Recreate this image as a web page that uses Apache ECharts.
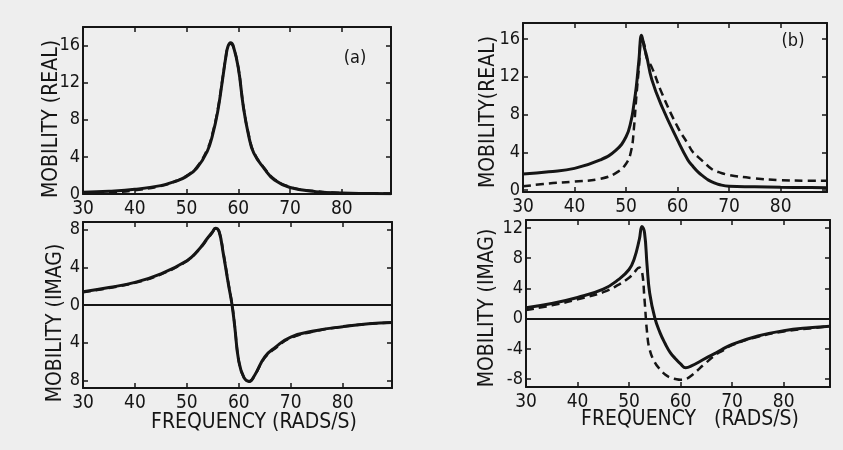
<!DOCTYPE html>
<html>
<head>
<meta charset="utf-8">
<script src="https://cdn.jsdelivr.net/npm/echarts@6/dist/echarts.min.js"></script>
<style>
  html, body { margin: 0; padding: 0; background: #eeeeee; }
  #chart { width: 843px; height: 450px; }
</style>
</head>
<body>
<div id="chart"></div>
<script>
// (a) real part
const aRealFreq = [30, 35, 40, 45, 48, 50, 52, 54, 55, 56, 57, 57.6, 58, 58.5, 59, 60, 61, 62, 63, 65, 67, 70, 75, 80, 85, 89.5]
const aRealSolid = [0.2, 0.3, 0.5, 0.9, 1.4, 1.9, 2.8, 4.6, 6.3, 8.8, 12.5, 14.8, 15.9, 16.3, 16.0, 13.6, 9.3, 6.3, 4.4, 2.75, 1.5, 0.7, 0.25, 0.1, 0.05, 0.03]
const aRealDash = [0.05, 0.15, 0.4, 0.85, 1.4, 1.95, 2.9, 4.8, 6.5, 9.0, 12.6, 14.8, 15.9, 16.2, 15.9, 13.6, 9.4, 6.4, 4.5, 2.8, 1.6, 0.75, 0.3, 0.1, 0.05, 0.05]

// (a) imaginary part
const aImagFreq = [30, 35, 40, 45, 50, 52, 54, 55, 55.5, 56.2, 57, 58, 58.7, 59.2, 60, 61, 62, 63, 65, 67, 70, 75, 80, 85, 89.5]
const aImagSolid = [1.4, 1.85, 2.4, 3.3, 4.7, 5.7, 7.1, 7.8, 8.15, 7.8, 5.5, 2.2, 0, -2.2, -6.0, -7.7, -8.1, -7.5, -5.5, -4.5, -3.4, -2.7, -2.3, -2.0, -1.85]
const aImagDash = [1.35, 1.8, 2.35, 3.25, 4.65, 5.65, 7.0, 7.75, 8.1, 7.8, 5.6, 2.3, 0.1, -2.1, -5.9, -7.7, -8.1, -7.5, -5.6, -4.6, -3.5, -2.75, -2.3, -2.0, -1.85]

// (b) real part
const bRealFreq = [30, 35, 40, 45, 48, 50, 51, 51.5, 52, 52.5, 53, 53.5, 54, 55, 57, 60, 62, 63, 64, 65, 66, 67, 68, 70, 75, 80, 85, 89]
const bRealSolid = [1.7, 1.95, 2.3, 3.2, 4.2, 5.65, 7.4, 9.0, 11.0, 13.8, 16.4, 15.2, 14.2, 11.7, 8.8, 5.3, 3.2, 2.5, 1.9, 1.45, 1.06, 0.8, 0.6, 0.4, 0.35, 0.3, 0.27, 0.25]
const bRealDash = [0.4, 0.7, 0.9, 1.2, 1.8, 2.8, 4.2, 6.4, 9.9, 13.0, 15.9, 15.5, 14.0, 13.0, 10.2, 6.7, 4.9, 4.0, 3.5, 3.0, 2.5, 2.1, 1.9, 1.6, 1.25, 1.06, 1.0, 1.0]

// (b) imaginary part
const bImagFreq = [30, 35, 40, 45, 48, 50, 51, 52, 52.5, 53, 53.5, 54, 55, 56, 57, 58, 59, 60, 61, 62, 65, 67, 68, 70, 75, 80, 85, 89]
const bImagSolid = [1.45, 2.0, 2.8, 3.9, 5.2, 6.5, 7.9, 10.5, 12.2, 11.4, 7.0, 3.4, 0.1, -1.85, -3.3, -4.5, -5.3, -6.0, -6.5, -6.3, -5.2, -4.5, -4.1, -3.4, -2.3, -1.6, -1.2, -1.0]
const bImagDash = [1.15, 1.75, 2.55, 3.5, 4.5, 5.4, 6.1, 6.75, 6.3, 2.55, -1.85, -4.1, -5.8, -6.7, -7.4, -7.8, -8.0, -8.1, -8.0, -7.6, -5.8, -4.7, -4.3, -3.5, -2.4, -1.7, -1.3, -1.0]

const xTicks = [30, 40, 50, 60, 70, 80]
const realTicks = [0, 4, 8, 12, 16]
const aImagTicks = [-8, -4, 0, 4, 8]
const bImagTicks = [-8, -4, 0, 4, 8, 12]

const INK = '#151515'
const FONT = "'DejaVu Sans Condensed', 'Liberation Sans', sans-serif"

const zip = (xs, ys) => xs.map((x, i) => [x, ys[i]])

const axisLine = { onZero: false, lineStyle: { color: INK, width: 2 } }
const tickStyle = { color: INK, width: 1.5 }

const makeX = (gridIndex, max, position, labels) => ({
  type: 'value',
  gridIndex,
  min: 30,
  max,
  position,
  axisLine,
  axisTick: { inside: true, length: 5, customValues: xTicks, lineStyle: tickStyle },
  axisLabel: {
    show: labels,
    customValues: xTicks,
    color: INK,
    fontSize: 19,
    fontFamily: FONT,
    margin: 6
  },
  splitLine: { show: false }
})

const makeY = (gridIndex, min, max, ticks, position, labels, fmt) => ({
  type: 'value',
  gridIndex,
  min,
  max,
  position,
  axisLine,
  axisTick: { inside: true, length: 5, customValues: ticks, lineStyle: tickStyle },
  axisLabel: {
    show: labels,
    customValues: ticks,
    color: INK,
    fontSize: 18,
    fontFamily: FONT,
    margin: 3,
    formatter: fmt
  },
  splitLine: { show: false }
})

const zeroLine = {
  silent: true,
  symbol: 'none',
  label: { show: false },
  lineStyle: { color: INK, width: 2, type: 'solid' },
  data: [{ yAxis: 0 }]
}

const curve = (idx, data, dashed, withZero) => ({
  type: 'line',
  xAxisIndex: idx,
  yAxisIndex: idx,
  data,
  showSymbol: false,
  smooth: 0.45,
  lineStyle: dashed
    ? { color: INK, width: 2.5, type: [8, 5] }
    : { color: INK, width: 3 },
  markLine: withZero ? zeroLine : undefined,
  z: dashed ? 2 : 3
})

const titleText = (x, y, text, rotate, size) => ({
  type: 'text',
  x,
  y,
  rotation: rotate ? Math.PI / 2 : 0,
  style: {
    text,
    fill: INK,
    font: size + 'px ' + FONT,
    textAlign: 'center',
    textVerticalAlign: 'middle'
  }
})

const chart = echarts.init(document.getElementById('chart'))

chart.setOption({
  animation: false,
  backgroundColor: '#eeeeee',
  grid: [
    { left: 83, top: 27, width: 308, height: 167 },
    { left: 83, top: 222, width: 309, height: 166 },
    { left: 523, top: 23, width: 304, height: 169 },
    { left: 526, top: 220, width: 304, height: 167 }
  ],
  xAxis: [
    makeX(0, 89.5, 'bottom', true), makeX(0, 89.5, 'top', false),
    makeX(1, 89.5, 'bottom', true), makeX(1, 89.5, 'top', false),
    makeX(2, 89, 'bottom', true), makeX(2, 89, 'top', false),
    makeX(3, 89, 'bottom', true), makeX(3, 89, 'top', false)
  ],
  yAxis: [
    makeY(0, 0, 18, realTicks, 'left', true), makeY(0, 0, 18, realTicks, 'right', false),
    makeY(1, -8.8, 8.8, aImagTicks, 'left', true, v => String(Math.abs(v))),
    makeY(1, -8.8, 8.8, aImagTicks, 'right', false),
    makeY(2, -0.2, 17.7, realTicks, 'left', true), makeY(2, -0.2, 17.7, realTicks, 'right', false),
    makeY(3, -9.05, 13.05, bImagTicks, 'left', true), makeY(3, -9.05, 13.05, bImagTicks, 'right', false)
  ],
  series: [
    curve(0, zip(aRealFreq, aRealDash), true),
    curve(0, zip(aRealFreq, aRealSolid), false),
    curve(2, zip(aImagFreq, aImagDash), true),
    curve(2, zip(aImagFreq, aImagSolid), false, true),
    curve(4, zip(bRealFreq, bRealDash), true),
    curve(4, zip(bRealFreq, bRealSolid), false),
    curve(6, zip(bImagFreq, bImagDash), true),
    curve(6, zip(bImagFreq, bImagSolid), false, true)
  ],
  graphic: [
    titleText(52, 119, 'MOBILITY (REAL)', true, 21),
    titleText(56, 323, 'MOBILITY (IMAG)', true, 21),
    titleText(489, 112, 'MOBILITY(REAL)', true, 21),
    titleText(488, 308, 'MOBILITY (IMAG)', true, 21),
    titleText(254, 423, 'FREQUENCY (RADS/S)', false, 21),
    titleText(690, 420, 'FREQUENCY   (RADS/S)', false, 21),
    titleText(355, 58, '(a)', false, 18),
    titleText(793, 41, '(b)', false, 18)
  ]
})
</script>
</body>
</html>
